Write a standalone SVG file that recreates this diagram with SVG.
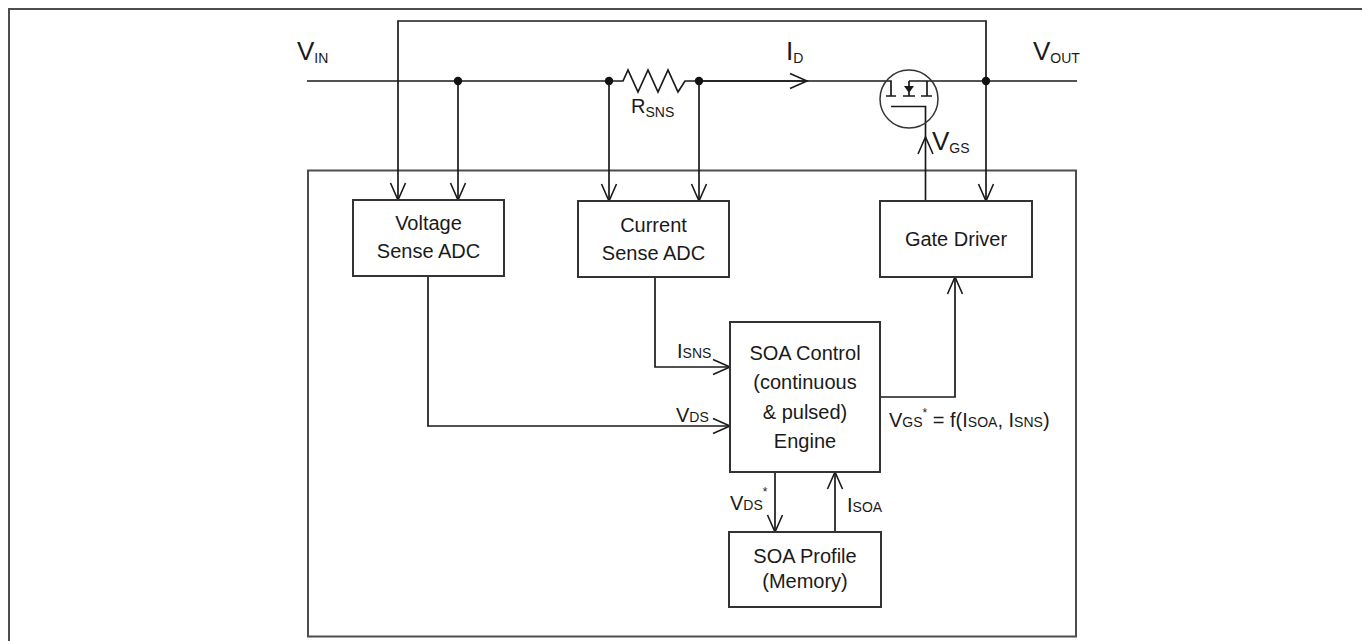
<svg xmlns="http://www.w3.org/2000/svg" width="1362" height="641" viewBox="0 0 1362 641">
<style>
  .frame{fill:none;stroke:#4d4d4d;stroke-width:2}
  .box{fill:#fff;stroke:#333;stroke-width:2}
  .w{fill:none;stroke:#1a1a1a;stroke-width:1.7}
  .arrow{marker-end:url(#arr)}
  .t{font-family:"Liberation Sans",Arial,sans-serif;font-size:20px;fill:#1a1a1a;text-anchor:middle}
  .l{font-family:"Liberation Sans",Arial,sans-serif;fill:#1a1a1a}
  .big{font-size:26px}
  .mid{font-size:20px}
  .sub{font-size:14px}
  .sup{font-size:12px}
</style>
<defs>
  <marker id="arr" markerUnits="userSpaceOnUse" markerWidth="22" markerHeight="22" viewBox="-19 -11 22 22" refX="0" refY="0" orient="auto">
    <path d="M-17,-7.5 L0,0 L-17,7.5" fill="none" stroke="#1a1a1a" stroke-width="1.6"/>
  </marker>
</defs>
<rect width="1362" height="641" fill="#fff"/>
<path class="frame" d="M9 641 V9 H1362"/>
<rect id="system" class="frame" x="308" y="170.5" width="768" height="466"/>

<g id="connectors">
  <path class="w" d="M307 81 H623 L628 70 L638 92 L648 70 L658 92 L668 70 L678 92 L685 81 H891 V96"/>
  <path class="w arrow" d="M699 81 H807"/>
  <path class="w" d="M909 81 H1077"/>
  <path class="w arrow" d="M986 81 V21 H398 V200"/>
  <path class="w arrow" d="M986 81 V201"/>
  <path class="w arrow" d="M458 81 V200"/>
  <path class="w arrow" d="M609 81 V201"/>
  <path class="w arrow" d="M699 81 V201"/>
  <path class="w arrow" d="M925.5 201 V137"/>
  <path class="w" d="M925.5 137 V106.5 H891"/>
  <path class="w arrow" d="M428 276 V426 H730"/>
  <path class="w arrow" d="M655 277 V367 H730"/>
  <path class="w arrow" d="M880 397 H955 V277"/>
  <path class="w arrow" d="M775 472 V532"/>
  <path class="w arrow" d="M835 532 V472"/>
</g>

<g id="junctions" fill="#111">
  <circle cx="458" cy="81" r="4.2"/>
  <circle cx="609" cy="81" r="4.2"/>
  <circle cx="699" cy="81" r="4.2"/>
  <circle cx="986" cy="81" r="4.2"/>
</g>

<g id="node-mosfet">
  <circle cx="909" cy="99" r="29" fill="none" stroke="#333" stroke-width="1.5"/>
  <path class="w" d="M909 81 V96 M927 81 V96 M886 96 H896 M903 96 H915 M921 96 H932"/>
  <path d="M904 86 H914 L909 93 Z" fill="#1a1a1a"/>
</g>

<g id="labels">
  <text class="l big" x="297" y="60">V<tspan class="sub" dy="3">IN</tspan></text>
  <text class="l big" x="786" y="60">I<tspan class="sub" dy="3">D</tspan></text>
  <text class="l big" x="1033" y="60">V<tspan class="sub" dy="3">OUT</tspan></text>
  <text class="l mid" x="631" y="113">R<tspan class="sub" dy="4">SNS</tspan></text>
  <text class="l big" x="932" y="150">V<tspan class="sub" dy="3">GS</tspan></text>
  <text class="l mid" x="677" y="358">I<tspan class="sub">SNS</tspan></text>
  <text class="l mid" x="676" y="422">V<tspan class="sub">DS</tspan></text>
  <text class="l mid" x="889" y="427">V<tspan class="sub">GS</tspan><tspan class="sup" dy="-10">*</tspan><tspan dy="10"> = f(I</tspan><tspan class="sub">SOA</tspan>, I<tspan class="sub">SNS</tspan>)</text>
  <text class="l mid" x="730" y="510">V<tspan class="sub">DS</tspan><tspan class="sup" dy="-14">*</tspan></text>
  <text class="l mid" x="847" y="512">I<tspan class="sub">SOA</tspan></text>
</g>

<g id="node-voltage-adc">
  <rect class="box" x="353" y="200" width="151" height="76"/>
  <text class="t" x="428.5" y="230">Voltage</text>
  <text class="t" x="428.5" y="258">Sense ADC</text>
</g>
<g id="node-current-adc">
  <rect class="box" x="578" y="201" width="151" height="76"/>
  <text class="t" x="653.5" y="232">Current</text>
  <text class="t" x="653.5" y="260">Sense ADC</text>
</g>
<g id="node-gate-driver">
  <rect class="box" x="880" y="201" width="152" height="76"/>
  <text class="t" x="956" y="246">Gate Driver</text>
</g>
<g id="node-soa-control">
  <rect class="box" x="730" y="322" width="150" height="150"/>
  <text class="t" x="805" y="360">SOA Control</text>
  <text class="t" x="805" y="389">(continuous</text>
  <text class="t" x="805" y="419">&amp; pulsed)</text>
  <text class="t" x="805" y="448">Engine</text>
</g>
<g id="node-soa-profile">
  <rect class="box" x="729" y="532" width="152" height="75"/>
  <text class="t" x="805" y="563">SOA Profile</text>
  <text class="t" x="805" y="588">(Memory)</text>
</g>
</svg>
